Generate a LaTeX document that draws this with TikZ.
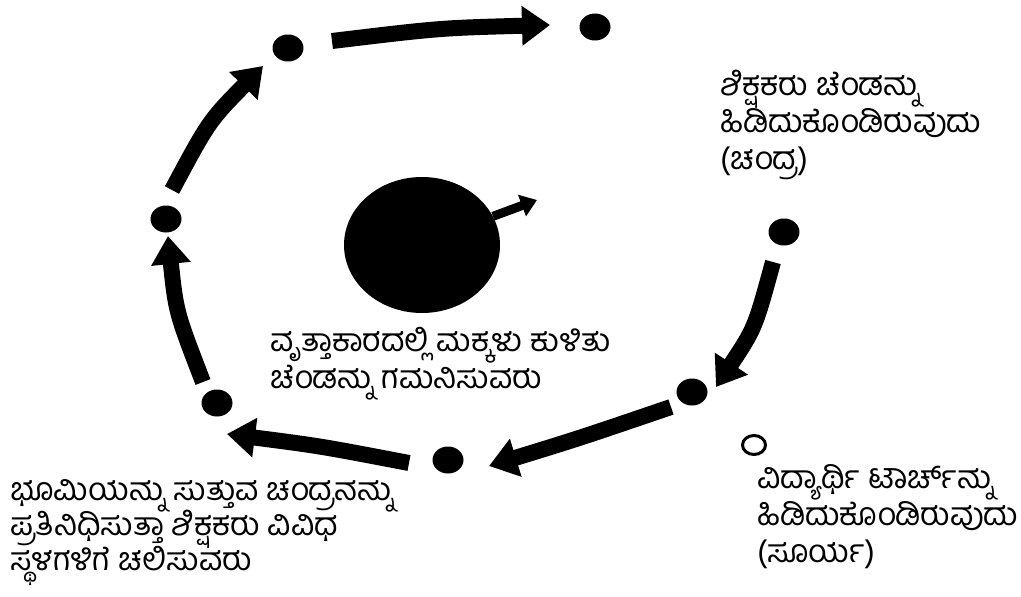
\documentclass[tikz,border=0pt]{standalone}
\usepackage{fontspec}
\newfontfamily\kn[Script=Kannada]{Hind Mysuru}
\usetikzlibrary{arrows.meta,shapes.geometric}
\begin{document}
\begin{tikzpicture}[x=1pt,y=-1pt,
  dot/.style={ellipse,fill=black,minimum width=31pt,minimum height=27pt,inner sep=0pt},
  ring/.style={ellipse,draw=black,line width=3pt,minimum width=23pt,minimum height=19pt,inner sep=0pt},
  bigarrow/.style={line width=16pt,line cap=butt,-{Triangle[width=38pt,length=28pt]}},
  smallarrow/.style={line width=9pt,line cap=butt,-{Triangle[width=22pt,length=16pt]}},
  txt/.style={font=\kn\fontsize{32}{37}\selectfont,align=left,anchor=north west,inner sep=0pt}]
\useasboundingbox (0,0) rectangle (1021,597);

% dots around the ring
\node[dot] (dtop) at (288,48) {};
\node[dot] (dtr) at (595,27) {};
\node[dot] (dr) at (784,232) {};
\node[dot] (dlr) at (692,392) {};
\node[dot] (dbot) at (448,460) {};
\node[dot] (dlb) at (217,403) {};
\node[dot] (dl) at (166,219) {};
\node[ring] (sun) at (754,445) {};

% earth
\node[ellipse,fill=black,minimum width=156pt,minimum height=136pt,inner sep=0pt] (earth) at (422,245) {};
\coordinate (etip) at (537,200);
\draw[smallarrow] (earth.22) -- (etip);

% arrow ends
\coordinate (a1s) at (332,41);  \coordinate (a1e) at (550,25);
\coordinate (a2s) at (172,190); \coordinate (a2e) at (263,66);
\coordinate (a3s) at (203,382); \coordinate (a3e) at (168,236);
\coordinate (a4s) at (409,463); \coordinate (a4e) at (227,434);
\coordinate (a5s) at (671,407); \coordinate (a5e) at (489,466);
\coordinate (a6s) at (773,262); \coordinate (a6e) at (716,387);

\draw[bigarrow] (a1s) .. controls (440,28) .. (a1e);
\draw[bigarrow] (a2s) .. controls (209,121) .. (a2e);
\draw[bigarrow] (a3s) .. controls (176,312) .. (a3e);
\draw[bigarrow] (a4s) .. controls (320,446) .. (a4e);
\draw[bigarrow] (a5s) .. controls (580,438) .. (a5e);
\draw[bigarrow] (a6s) .. controls (755,328) .. (a6e);

% texts
\node[txt] (tmoon) at (720,70) {ಶಿಕ್ಷಕರು ಚೆಂಡನ್ನು\\ಹಿಡಿದುಕೊಂಡಿರುವುದು\\(ಚಂದ್ರ)};
\node[txt] (tsun) at (757,464) {ವಿದ್ಯಾರ್ಥಿ ಟಾರ್ಚ್‌ನ್ನು\\ಹಿಡಿದುಕೊಂಡಿರುವುದು\\(ಸೂರ್ಯ)};
\node[txt] (tmove) at (10,479) {ಭೂಮಿಯನ್ನು ಸುತ್ತುವ ಚಂದ್ರನನ್ನು\\[-3pt]ಪ್ರತಿನಿಧಿಸುತ್ತಾ ಶಿಕ್ಷಕರು ವಿವಿಧ\\[-3pt]ಸ್ಥಳಗಳಿಗೆ ಚಲಿಸುವರು};
\node[txt] (tsit) at (270,327) {ವೃತ್ತಾಕಾರದಲ್ಲಿ ಮಕ್ಕಳು ಕುಳಿತು\\ಚೆಂಡನ್ನು ಗಮನಿಸುವರು};
\end{tikzpicture}
\end{document}
